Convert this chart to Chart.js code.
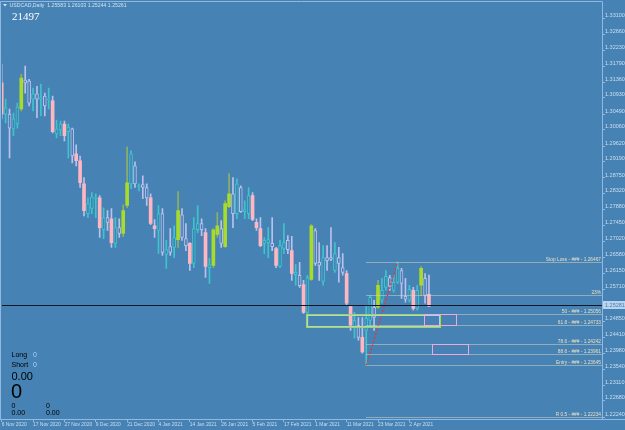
<!DOCTYPE html>
<html>
<head>
<meta charset="utf-8">
<title>USDCAD Daily</title>
<script src="https://cdn.jsdelivr.net/npm/chart.js@4"></script>
<style>
  html, body { margin: 0; padding: 0; background: #4682b4; }
  #wrap { position: relative; width: 625px; height: 430px; }
</style>
</head>
<body>
<div id="wrap"><canvas id="chart" width="625" height="430"></canvas></div>
<script>
// USDCAD daily candles (6 Nov 2020 -> 9 Apr 2021)
const opens = [
  1.3134, 1.3049, 1.3011, 1.3009, 1.3022, 1.3063, 1.3134, 1.3079, 1.3090, 1.3090,
  1.3090, 1.3071, 1.3087, 1.3085, 1.2995, 1.3006, 1.3022, 1.3001, 1.2935, 1.2941,
  1.2922, 1.2859, 1.2778, 1.2792, 1.2819, 1.2821, 1.2734, 1.2754, 1.2764, 1.2697,
  1.2724, 1.2724, 1.2800, 1.2859, 1.2859, 1.2851, 1.2849, 1.2821, 1.2821, 1.2745,
  1.2732, 1.2672, 1.2667, 1.2672, 1.2686, 1.2707, 1.2713, 1.2691, 1.2697, 1.2642,
  1.2734, 1.2734, 1.2726, 1.2631, 1.2637, 1.2721, 1.2697, 1.2688, 1.2797, 1.2778,
  1.2778, 1.2783, 1.2783, 1.2778, 1.2827, 1.2754, 1.2737, 1.2697, 1.2699, 1.2688,
  1.2683, 1.2634, 1.2683, 1.2680, 1.2677, 1.2612, 1.2582, 1.2585, 1.2509, 1.2599,
  1.2642, 1.2637, 1.2593, 1.2650, 1.2653, 1.2623, 1.2642, 1.2618, 1.2615, 1.2525,
  1.2466, 1.2441, 1.2441, 1.2460, 1.2487, 1.2495, 1.2523, 1.2542, 1.2577, 1.2580,
  1.2569, 1.2591, 1.2588, 1.2545, 1.2542, 1.2569, 1.2520, 1.2583, 1.2555, 1.25583
];
const highs = [
  1.3185, 1.3090, 1.3063, 1.3052, 1.3079, 1.3158, 1.3180, 1.3144, 1.3120, 1.3125,
  1.3131, 1.3106, 1.3120, 1.3098, 1.3033, 1.3030, 1.3030, 1.3022, 1.3011, 1.2965,
  1.2935, 1.2876, 1.2821, 1.2835, 1.2832, 1.2827, 1.2794, 1.2786, 1.2792, 1.2767,
  1.2764, 1.2802, 1.2960, 1.2949, 1.2919, 1.2859, 1.2881, 1.2859, 1.2832, 1.2762,
  1.2800, 1.2792, 1.2705, 1.2737, 1.2745, 1.2838, 1.2792, 1.2751, 1.2699, 1.2767,
  1.2800, 1.2764, 1.2737, 1.2656, 1.2737, 1.2781, 1.2759, 1.2813, 1.2887, 1.2876,
  1.2873, 1.2854, 1.2813, 1.2849, 1.2835, 1.2764, 1.2767, 1.2713, 1.2740, 1.2767,
  1.2686, 1.2705, 1.2751, 1.2718, 1.2716, 1.2639, 1.2645, 1.2596, 1.2610, 1.2748,
  1.2737, 1.2699, 1.2691, 1.2691, 1.2740, 1.2699, 1.2686, 1.2669, 1.2623, 1.2528,
  1.2509, 1.2495, 1.2495, 1.2528, 1.2555, 1.2542, 1.2596, 1.2602, 1.2623, 1.2610,
  1.2610, 1.2647, 1.2629, 1.2602, 1.2583, 1.2577, 1.2583, 1.2634, 1.2615, 1.26103
];
const lows = [
  1.3036, 1.3025, 1.2930, 1.2990, 1.3011, 1.3058, 1.3106, 1.3071, 1.3058, 1.3039,
  1.3044, 1.3044, 1.3063, 1.2998, 1.2984, 1.2990, 1.2976, 1.2930, 1.2916, 1.2908,
  1.2849, 1.2772, 1.2767, 1.2778, 1.2767, 1.2713, 1.2710, 1.2732, 1.2686, 1.2686,
  1.2713, 1.2715, 1.2794, 1.2846, 1.2849, 1.2840, 1.2819, 1.2800, 1.2748, 1.2713,
  1.2669, 1.2664, 1.2629, 1.2664, 1.2658, 1.2686, 1.2705, 1.2677, 1.2623, 1.2631,
  1.2726, 1.2718, 1.2604, 1.2588, 1.2631, 1.2713, 1.2686, 1.2686, 1.2794, 1.2740,
  1.2764, 1.2781, 1.2764, 1.2764, 1.2759, 1.2732, 1.2688, 1.2669, 1.2658, 1.2677,
  1.2631, 1.2631, 1.2669, 1.2669, 1.2596, 1.2583, 1.2577, 1.2506, 1.2468, 1.2596,
  1.2637, 1.2596, 1.2583, 1.2623, 1.2650, 1.2618, 1.2591, 1.2610, 1.2528, 1.2460,
  1.2439, 1.2433, 1.2398, 1.2364, 1.2468, 1.2460, 1.2520, 1.2534, 1.2569, 1.2569,
  1.2564, 1.2588, 1.2547, 1.2537, 1.2537, 1.2515, 1.2515, 1.2555, 1.2534, 1.25244
];
const closes = [
  1.3049, 1.3066, 1.3049, 1.3036, 1.3068, 1.3147, 1.3142, 1.3139, 1.3104, 1.3104,
  1.3093, 1.3098, 1.3090, 1.3001, 1.3009, 1.3022, 1.2990, 1.3014, 1.3009, 1.2922,
  1.2862, 1.2786, 1.2805, 1.2824, 1.2821, 1.2740, 1.2767, 1.2767, 1.2699, 1.2740,
  1.2740, 1.2786, 1.2862, 1.2941, 1.2908, 1.2854, 1.2857, 1.2849, 1.2751, 1.2737,
  1.2778, 1.2778, 1.2680, 1.2688, 1.2713, 1.2786, 1.2775, 1.2710, 1.2642, 1.2737,
  1.2751, 1.2751, 1.2634, 1.2639, 1.2734, 1.2745, 1.2737, 1.2805, 1.2832, 1.2832,
  1.2859, 1.2849, 1.2789, 1.2827, 1.2762, 1.2740, 1.2691, 1.2705, 1.2707, 1.2697,
  1.2637, 1.2691, 1.2699, 1.2705, 1.2615, 1.2618, 1.2610, 1.2509, 1.2604, 1.2745,
  1.2732, 1.2645, 1.2658, 1.2658, 1.2658, 1.2669, 1.2658, 1.2631, 1.2534, 1.2474,
  1.2487, 1.2474, 1.2401, 1.2493, 1.2550, 1.2523, 1.2583, 1.2569, 1.2607, 1.2604,
  1.2591, 1.2629, 1.2623, 1.2553, 1.2572, 1.2520, 1.2569, 1.2629, 1.2602, 1.25261
];
// candle colouring from the chart template: b = bear (pink), t = teal, v = lavender, g = lime
const kinds = ('btvttgvvtv' + 'tvtbttbtvb' + 'bbtttbtvbt' + 'vggtvtvvbb' + 'tvtvtgvvbt' +
               'tvbtggvggv' + 'tvttbbbttv' + 'bttvbtvbtg' + 'vvtvvtvvbb' + 'tvbttvgttv' +
               'ttvvtbtgvb').split('');

const dateIdx = [0, 8, 16, 24, 32, 40, 48, 56, 64, 72, 80, 88, 96, 104];
const dateLabels = ['6 Nov 2020', '17 Nov 2020', '27 Nov 2020', '9 Dec 2020', '21 Dec 2020',
  '4 Jan 2021', '14 Jan 2021', '26 Jan 2021', '5 Feb 2021', '17 Feb 2021',
  '1 Mar 2021', '11 Mar 2021', '23 Mar 2021', '2 Apr 2021'];

const yTicks = [1.33100, 1.32660, 1.32230, 1.31790, 1.31360, 1.30930, 1.30490, 1.30060,
  1.29620, 1.29190, 1.28750, 1.28320, 1.27880, 1.27450, 1.27020, 1.26580, 1.26150,
  1.25710, 1.24850, 1.24410, 1.23980, 1.23540, 1.23110, 1.22680, 1.22240];

const currentPrice = 1.25281;

// fibonacci tool drawn from the March low to the March high
const fibNames = ['Stop Loss', '23%', '50', '61.8', '78.6', '88.6', 'Entry', 'R 0.5'];
const fibPrices = [1.26467, 1.25550, 1.25056, 1.24733, 1.24242, 1.23961, 1.23645, 1.22234];
const fibFrom = 93;
const swingFrom = [93, 1.23645];
const swingTo = [101, 1.26467];

// zones: bar index range and price range
const zoneFrom = [77.6, 107.7, 109.8];
const zoneTo = [111.8, 115.9, 118.9];
const zoneHigh = [1.25056, 1.25056, 1.24242];
const zoneLow = [1.24680, 1.24733, 1.23961];

const BG = '#4682b4';
const FRAME = '#8fb9e3';
const AXIS_TXT = '#cddff1';
const fillCol = { b: '#ffb6c1', t: BG, v: BG, g: '#a8dc28' };
const edgeCol = { b: '#ffb6c1', t: '#3ec4cc', v: '#bcc0ec', g: '#a8dc28' };
const wickCol = { b: '#bcc0ec', t: '#3ec4cc', v: '#bcc0ec', g: '#8fb060' };

const idx = opens.map((_, i) => i);
const bodies = idx.map(i => ({ x: i, y: [opens[i], closes[i]] }));
const wicks = idx.map(i => ({ x: i, y: [lows[i], highs[i]] }));

const k = c => kinds[c.dataIndex] || 'b';

const overlay = {
  id: 'overlay',
  beforeDraw(chart) {
    const { ctx, width, height } = chart;
    ctx.save();
    ctx.fillStyle = BG;
    ctx.fillRect(0, 0, width, height);
    ctx.restore();
  },
  afterDatasetsDraw(chart) {
    const { ctx, chartArea: a, scales: { x, y } } = chart;
    const px = v => Math.round(x.getPixelForValue(v)) + 0.5;
    const py = v => Math.round(y.getPixelForValue(v)) + 0.5;
    ctx.save();

    // price line
    ctx.strokeStyle = '#0f1626';
    ctx.lineWidth = 1;
    ctx.beginPath();
    ctx.moveTo(a.left, py(currentPrice));
    ctx.lineTo(a.right, py(currentPrice));
    ctx.stroke();

    // fib levels
    ctx.setLineDash([1, 1]);
    ctx.strokeStyle = '#dcd8c0';
    fibPrices.forEach(p => {
      ctx.beginPath();
      ctx.moveTo(px(fibFrom), py(p));
      ctx.lineTo(a.right, py(p));
      ctx.stroke();
    });
    ctx.font = '4.8px "Liberation Sans"';
    ctx.fillStyle = '#e6e0c4';
    ctx.textAlign = 'right';
    ctx.textBaseline = 'alphabetic';
    fibNames.forEach((n, i) => {
      const txt = n === '23%' ? n : n + ' - ### - ' + fibPrices[i].toFixed(5);
      ctx.fillText(txt, a.right - 1, py(fibPrices[i]) - 1.5);
    });

    // swing line
    ctx.setLineDash([2, 2]);
    ctx.strokeStyle = '#ff2a2a';
    ctx.lineWidth = 1.2;
    ctx.beginPath();
    ctx.moveTo(x.getPixelForValue(swingFrom[0]), y.getPixelForValue(swingFrom[1]));
    ctx.lineTo(x.getPixelForValue(swingTo[0]), y.getPixelForValue(swingTo[1]));
    ctx.stroke();
    ctx.setLineDash([]);
    ctx.lineWidth = 1;

    // zones
    zoneFrom.forEach((f, i) => {
      const x0 = px(f), x1 = px(zoneTo[i]);
      const y0 = py(zoneHigh[i]), y1 = py(zoneLow[i]);
      if (i === 0) {
        ctx.strokeStyle = '#a8dc28';
        ctx.strokeRect(x0, y0, x1 - x0, y1 - y0);
        ctx.strokeStyle = '#a9d2f5';
        ctx.strokeRect(x0 + 1, y0 + 1, x1 - x0 - 2, y1 - y0 - 2);
      } else {
        ctx.strokeStyle = '#f0a8d8';
        ctx.strokeRect(x0, y0, x1 - x0, y1 - y0);
      }
    });

    // header + labels
    ctx.textAlign = 'left';
    ctx.fillStyle = '#d2e2f2';
    ctx.beginPath();
    ctx.moveTo(3, 4); ctx.lineTo(7, 4); ctx.lineTo(5, 6.5); ctx.closePath();
    ctx.fill();
    ctx.font = '5.2px "Liberation Sans"';
    ctx.fillText('USDCAD,Daily  1.25583 1.26103 1.25244 1.25261', 9.5, 7);

    ctx.fillStyle = '#ffffff';
    ctx.font = '11px "Liberation Serif"';
    ctx.fillText('21497', 12, 19.5);

    ctx.fillStyle = '#000000';
    ctx.font = '7px "Liberation Sans"';
    ctx.fillText('Long', 11.5, 357);
    ctx.fillText('Short', 11.5, 367);
    ctx.fillStyle = '#a8d6ff';
    ctx.fillText('0', 33, 357);
    ctx.fillText('0', 33, 367);
    ctx.fillStyle = '#000000';
    ctx.font = '11px "Liberation Sans"';
    ctx.fillText('0.00', 11.5, 380);
    ctx.font = '20px "Liberation Sans"';
    ctx.fillText('0', 11, 398);
    ctx.font = '7px "Liberation Sans"';
    ctx.fillText('0', 11.5, 407.5);
    ctx.fillText('0.00', 11.5, 414.5);
    ctx.fillText('0', 46, 407.5);
    ctx.fillText('0.00', 46, 414.5);
    ctx.restore();
  },
  afterDraw(chart) {
    const { ctx, chartArea: a, scales: { y }, width } = chart;
    ctx.save();
    ctx.strokeStyle = FRAME;
    ctx.lineWidth = 1;
    ctx.beginPath();
    ctx.moveTo(0.5, 1.5); ctx.lineTo(a.right + 0.5, 1.5);
    ctx.lineTo(a.right + 0.5, a.bottom + 0.5);
    ctx.moveTo(0.5, 1.5); ctx.lineTo(0.5, a.bottom + 0.5);
    ctx.moveTo(0, a.bottom + 0.5); ctx.lineTo(width, a.bottom + 0.5);
    ctx.stroke();

    const yy = Math.round(y.getPixelForValue(currentPrice));
    ctx.fillStyle = '#b9d4ee';
    ctx.fillRect(a.right + 1, yy - 4, 22, 8);
    ctx.fillStyle = '#4a7fb2';
    ctx.font = '5.5px "Liberation Sans"';
    ctx.textAlign = 'left';
    ctx.textBaseline = 'middle';
    ctx.fillText(currentPrice.toFixed(5), a.right + 3, yy + 0.5);
    ctx.restore();
  }
};

new Chart(document.getElementById('chart'), {
  type: 'bar',
  data: {
    datasets: [
      {
        label: 'body',
        data: bodies,
        order: 0,
        grouped: false,
        barThickness: 3,
        minBarLength: 1,
        borderSkipped: false,
        backgroundColor: c => fillCol[k(c)],
        borderColor: c => edgeCol[k(c)],
        borderWidth: c => (k(c) === 't' || k(c) === 'v') ? 1 : 0
      },
      {
        label: 'wick',
        data: wicks,
        order: 1,
        grouped: false,
        barThickness: 1,
        borderWidth: 0,
        backgroundColor: c => wickCol[k(c)]
      }
    ]
  },
  options: {
    responsive: false,
    animation: false,
    devicePixelRatio: 1,
    layout: { padding: { left: 2, top: 2, right: 0, bottom: 0 } },
    plugins: { legend: { display: false }, tooltip: { enabled: false } },
    scales: {
      x: {
        type: 'linear',
        offset: false,
        min: 0.08,
        max: 153.14,
        afterBuildTicks: s => { s.ticks = dateIdx.map(v => ({ value: v })); },
        afterFit: s => { s.height = 11; },
        border: { display: false },
        grid: { drawOnChartArea: false, drawTicks: true, tickLength: 3, color: FRAME, offset: false },
        ticks: {
          autoSkip: false,
          maxRotation: 0,
          align: 'start',
          padding: 0,
          color: AXIS_TXT,
          font: { size: 4.9, family: 'Liberation Sans' },
          callback: (v, i) => dateLabels[i]
        }
      },
      y: {
        type: 'linear',
        position: 'right',
        min: 1.22186,
        max: 1.33508,
        afterBuildTicks: s => { s.ticks = yTicks.map(v => ({ value: v })); },
        afterFit: s => { s.width = 23; },
        border: { display: false },
        grid: { drawOnChartArea: false, drawTicks: true, tickLength: 3, color: FRAME },
        ticks: {
          autoSkip: false,
          padding: 0,
          labelOffset: -3,
          color: AXIS_TXT,
          font: { size: 5.5, family: 'Liberation Sans' },
          callback: v => v.toFixed(5)
        }
      }
    }
  },
  plugins: [overlay]
});
</script>
</body>
</html>
